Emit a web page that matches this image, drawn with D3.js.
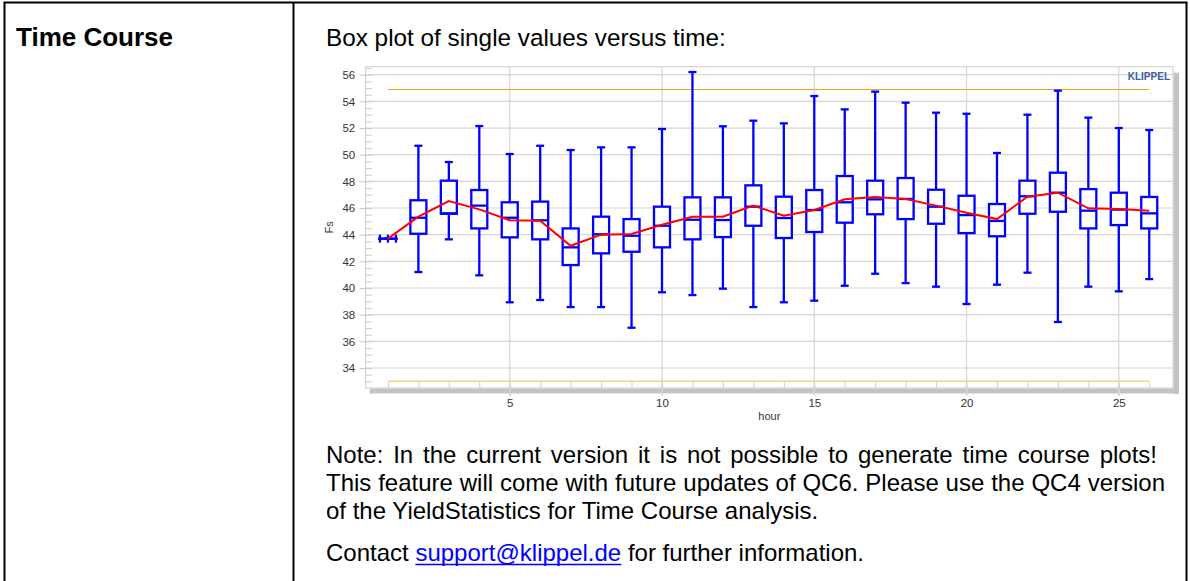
<!DOCTYPE html>
<html>
<head>
<meta charset="utf-8">
<script src="https://cdn.jsdelivr.net/npm/d3@7"></script>
<style>
  body { margin: 0; background: #fff; }
  text { font-family: "Liberation Sans", Arial, sans-serif; white-space: pre; }
</style>
</head>
<body>
<svg id="page"></svg>
<script>
// hours on the x axis
const hours = [1, 2, 3, 4, 5, 6, 7, 8, 9, 10, 11, 12, 13, 14, 15, 16, 17, 18, 19, 20, 21, 22, 23, 24, 25, 26];
// box plot statistics of Fs per hour
const whiskerLow  = [43.7, 41.2, 43.65, 40.95, 38.93, 39.1, 38.57, 38.57, 37.02, 39.68, 39.47, 39.95, 38.57, 38.93, 39.05, 40.17, 41.07, 40.37, 40.1, 38.8, 40.25, 41.15, 37.45, 40.1, 39.75, 40.67];
const quart1      = [43.7, 44.07, 45.57, 44.47, 43.8, 43.65, 41.72, 42.6, 42.72, 43.05, 43.65, 43.82, 44.67, 43.75, 44.2, 44.9, 45.53, 45.17, 44.82, 44.12, 43.88, 45.57, 45.72, 44.47, 44.72, 44.47];
const medians     = [43.7, 45.27, 45.6, 46.18, 45.27, 45.08, 43.05, 44.03, 43.92, 44.67, 45.12, 45.1, 46.1, 45.25, 45.85, 46.43, 46.65, 46.68, 46.1, 45.47, 45.03, 46.88, 47.15, 45.8, 45.88, 45.6];
const quart3      = [43.7, 46.58, 48.05, 47.35, 46.43, 46.48, 44.47, 45.35, 45.17, 46.1, 46.8, 46.8, 47.7, 46.85, 47.35, 48.4, 48.05, 48.25, 47.37, 46.92, 46.3, 48.05, 48.65, 47.42, 47.15, 46.83];
const whiskerHigh = [43.7, 50.67, 49.45, 52.15, 50.05, 50.67, 50.35, 50.55, 50.55, 51.93, 56.2, 52.13, 52.55, 52.35, 54.4, 53.4, 54.73, 53.9, 53.15, 53.07, 50.13, 53.0, 54.8, 52.78, 52.0, 51.85];
const means       = [43.7, 45.35, 46.52, 45.9, 45.08, 45.05, 43.17, 44.0, 44.05, 44.75, 45.35, 45.35, 46.18, 45.42, 45.85, 46.65, 46.82, 46.68, 46.18, 45.65, 45.17, 46.85, 47.15, 45.98, 45.93, 45.8];
// limit lines
const upperLimit = 54.9;
const lowerLimit = 33.0;
// ticks
const yTicks = [34, 36, 38, 40, 42, 44, 46, 48, 50, 52, 54, 56];
const xTicks = [5, 10, 15, 20, 25];

const W = 1190, H = 581;
const svg = d3.select('#page').attr('width', W).attr('height', H);
svg.append('rect').attr('width', W).attr('height', H).attr('fill', '#fff');

// ---- table frame ----
const frame = svg.append('g').attr('stroke', '#000').attr('stroke-width', 2);
frame.append('line').attr('x1', 4.5).attr('x2', 4.5).attr('y1', 2.5).attr('y2', H);
frame.append('line').attr('x1', 293.5).attr('x2', 293.5).attr('y1', 2.5).attr('y2', H);
frame.append('line').attr('x1', 1186.5).attr('x2', 1186.5).attr('y1', 2.5).attr('y2', H);
frame.append('line').attr('x1', 3.5).attr('x2', 1187.5).attr('y1', 2.5).attr('y2', 2.5);

svg.append('text').attr('x', 16).attr('y', 45.5)
  .attr('font-size', 26).attr('font-weight', 'bold').text('Time Course');
svg.append('text').attr('x', 326).attr('y', 45.5)
  .attr('font-size', 24.3).text('Box plot of single values versus time:');

// ---- chart ----
const plot = { left: 365.7, right: 1173, top: 66.7, bottom: 388 };
const x = d3.scaleLinear().domain([0.27, 26.78]).range([plot.left, plot.right]);
const y = d3.scaleLinear().domain([32.5, 56.6]).range([plot.bottom, plot.top]);

const chart = svg.append('g');

// shadow
chart.append('rect').attr('x', plot.left + 4).attr('y', plot.bottom + 0.5)
  .attr('width', plot.right - plot.left + 2).attr('height', 5).attr('fill', '#c4c4c4');
chart.append('rect').attr('x', plot.right + 0.5).attr('y', plot.top + 6)
  .attr('width', 5.5).attr('height', plot.bottom - plot.top).attr('fill', '#c4c4c4');

// grid
chart.append('g').selectAll('line').data(yTicks).join('line')
  .attr('x1', plot.left).attr('x2', plot.right)
  .attr('y1', d => y(d)).attr('y2', d => y(d))
  .attr('stroke', '#d6d6d6').attr('stroke-width', 1.2);
chart.append('g').selectAll('line').data(xTicks).join('line')
  .attr('x1', d => x(d)).attr('x2', d => x(d))
  .attr('y1', plot.top).attr('y2', plot.bottom + 8)
  .attr('stroke', '#d6d6d6').attr('stroke-width', 1.2);

// frame of the plot area
chart.append('rect').attr('x', plot.left).attr('y', plot.top)
  .attr('width', plot.right - plot.left).attr('height', plot.bottom - plot.top)
  .attr('fill', 'none').attr('stroke', '#cccccc').attr('stroke-width', 1);

// y axis
const yAxis = chart.append('g').attr('transform', `translate(${plot.left},0)`)
  .call(d3.axisLeft(y).tickValues(yTicks).tickSize(6).tickPadding(4.5));
yAxis.select('.domain').remove();
yAxis.selectAll('line').attr('stroke', '#c8c8c8');
yAxis.selectAll('text').attr('font-family', '"Liberation Sans", Arial, sans-serif')
  .attr('font-size', 11.5).attr('fill', '#333340');

const yMinor = chart.append('g').attr('transform', `translate(${plot.left},0)`)
  .call(d3.axisRight(y).tickValues(d3.range(33, 56.6, 0.5)).tickSize(6).tickFormat(''));
yMinor.select('.domain').remove();
yMinor.selectAll('line').attr('stroke', '#cccccc');

// x axis
const xAxis = chart.append('g').attr('transform', `translate(0,${plot.bottom})`)
  .call(d3.axisBottom(x).tickValues(xTicks).tickSize(8).tickPadding(3));
xAxis.select('.domain').remove();
xAxis.selectAll('line').attr('stroke', '#d6d6d6');
xAxis.selectAll('text').attr('font-family', '"Liberation Sans", Arial, sans-serif')
  .attr('font-size', 11.5).attr('fill', '#333340');

const xMinor = chart.append('g').attr('transform', `translate(0,${plot.bottom})`)
  .call(d3.axisTop(x).tickValues(hours).tickSize(6).tickFormat(''));
xMinor.select('.domain').remove();
xMinor.selectAll('line').attr('stroke', '#d0d0d0');

// axis titles
chart.append('text').attr('transform', `translate(333,${(plot.top + plot.bottom) / 2}) rotate(-90)`)
  .attr('text-anchor', 'middle').attr('font-size', 11).attr('fill', '#333340').text('Fs');
chart.append('text').attr('x', (plot.left + plot.right) / 2).attr('y', 420)
  .attr('text-anchor', 'middle').attr('font-size', 11).attr('fill', '#333340').text('hour');
chart.append('text').attr('x', 1170).attr('y', 79.5).attr('text-anchor', 'end')
  .attr('font-size', 10).attr('font-weight', 'bold').attr('fill', '#3c5aa8').text('KLIPPEL');

// limit lines
chart.append('line').attr('x1', x(hours[0])).attr('x2', x(hours[hours.length - 1]))
  .attr('y1', Math.round(y(upperLimit)) + 0.5).attr('y2', Math.round(y(upperLimit)) + 0.5)
  .attr('stroke', '#f5a018').attr('stroke-width', 1.2);
chart.append('line').attr('x1', x(hours[0])).attr('x2', x(hours[hours.length - 1]))
  .attr('y1', y(lowerLimit)).attr('y2', y(lowerLimit))
  .attr('stroke', '#fbcf86').attr('stroke-width', 1.5);

// box plots
const boxW = 16, capW = 8;
const boxes = chart.append('g').attr('stroke', '#0000ff').attr('stroke-width', 2.3).attr('fill', 'none');
hours.forEach((h, i) => {
  const cx = x(h);
  const g = boxes.append('g');
  g.append('line').attr('x1', cx).attr('x2', cx)
    .attr('y1', y(whiskerLow[i])).attr('y2', y(whiskerHigh[i]));
  [whiskerLow[i], whiskerHigh[i]].forEach(v => {
    g.append('line').attr('x1', cx - capW / 2).attr('x2', cx + capW / 2)
      .attr('y1', y(v)).attr('y2', y(v));
  });
  g.append('rect').attr('x', cx - boxW / 2).attr('y', y(quart3[i]))
    .attr('width', boxW).attr('height', y(quart1[i]) - y(quart3[i])).attr('fill', '#fff');
  g.append('line').attr('x1', cx - boxW / 2).attr('x2', cx + boxW / 2)
    .attr('y1', y(medians[i])).attr('y2', y(medians[i]));
  // a box with no spread is drawn as a small cross mark
  if (y(whiskerLow[i]) - y(whiskerHigh[i]) < 2) {
    [cx - boxW / 2, cx, cx + boxW / 2].forEach(px => {
      g.append('line').attr('x1', px).attr('x2', px)
        .attr('y1', y(medians[i]) - 4).attr('y2', y(medians[i]) + 4);
    });
    g.append('line').attr('x1', cx - boxW / 2 - 2).attr('x2', cx + boxW / 2 + 2)
      .attr('y1', y(medians[i])).attr('y2', y(medians[i]));
  }
});

// mean line
chart.append('path')
  .attr('d', d3.line().x((d, i) => x(hours[i])).y(d => y(d))(means))
  .attr('fill', 'none').attr('stroke', '#ff0000').attr('stroke-width', 2);

// ---- note text ----
const noteLines = [
  { words: 'Note: In the current version it is not possible to generate time course plots!', y: 462.7, right: 1157, justify: true },
  { words: 'This feature will come with future updates of QC6. Please use the QC4 version', y: 491, right: 1165, justify: true },
  { words: 'of the YieldStatistics for Time Course analysis.', y: 519.3, right: 1165, justify: false }
];
const textX = 326;
const measure = svg.append('text').attr('font-size', 24).attr('x', -1000).attr('y', -1000);
function widthOf(s) { measure.text(s); return measure.node().getComputedTextLength(); }

noteLines.forEach(line => {
  const words = line.words.split(' ');
  const t = svg.append('text').attr('font-size', 24).attr('y', line.y);
  if (!line.justify) { t.attr('x', textX).text(line.words); return; }
  const widths = words.map(widthOf);
  const gap = (line.right - textX - d3.sum(widths)) / (words.length - 1);
  let px = textX;
  words.forEach((w, k) => {
    t.append('tspan').attr('x', px).text(w);
    px += widths[k] + gap;
  });
});

const contactY = 561;
const part1 = 'Contact', link = 'support@klippel.de', part3 = 'for further information.';
const space = widthOf('a b') - widthOf('ab');
const w1 = widthOf(part1) + space, w2 = widthOf(link);
svg.append('text').attr('font-size', 24).attr('x', textX).attr('y', contactY).text(part1);
svg.append('text').attr('font-size', 24).attr('x', textX + w1).attr('y', contactY).attr('fill', '#0000ff').text(link);
svg.append('line').attr('x1', textX + w1).attr('x2', textX + w1 + w2)
  .attr('y1', contactY + 3.5).attr('y2', contactY + 3.5).attr('stroke', '#0000ff').attr('stroke-width', 1.6);
svg.append('text').attr('font-size', 24).attr('x', textX + w1 + w2 + space).attr('y', contactY).text(part3);
measure.remove();
</script>
</body>
</html>
